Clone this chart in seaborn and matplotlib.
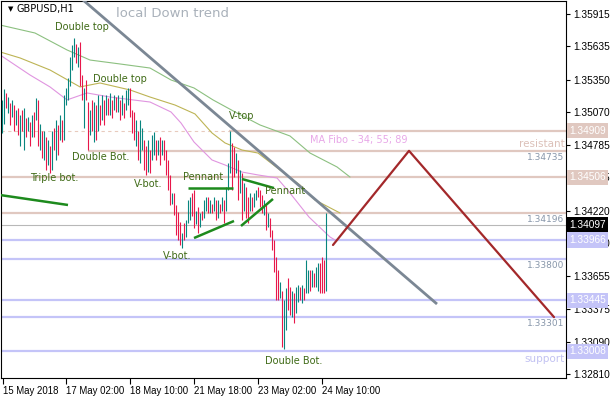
import numpy as np
import pandas as pd
import matplotlib
matplotlib.use("Agg")
import matplotlib.pyplot as plt
import seaborn as sns

# GBPUSD H1 bars (high / low, u = up bar, d = down bar)
highs = [
    1.3517, 1.3527, 1.3523, 1.3520, 1.3515, 1.3517, 1.3513, 1.3509, 1.3510, 1.3504,
    1.3509, 1.3510, 1.3502, 1.3503, 1.3498, 1.3504, 1.3507, 1.3519, 1.3517, 1.3497,
    1.3491, 1.3491, 1.3485, 1.3483, 1.3478, 1.3491, 1.3493, 1.3500, 1.3496, 1.3504,
    1.3500, 1.3522, 1.3528, 1.3536, 1.3554, 1.3565, 1.3571, 1.3566, 1.3563, 1.3567,
    1.3539, 1.3528, 1.3535, 1.3516, 1.3509, 1.3517, 1.3516, 1.3513, 1.3522, 1.3513,
    1.3522, 1.3517, 1.3522, 1.3519, 1.3523, 1.3517, 1.3522, 1.3520, 1.3522, 1.3517,
    1.3522, 1.3515, 1.3526, 1.3528, 1.3528, 1.3509, 1.3507, 1.3500, 1.3491, 1.3500,
    1.3493, 1.3483, 1.3478, 1.3483, 1.3474, 1.3487, 1.3490, 1.3483, 1.3483, 1.3485,
    1.3483, 1.3483, 1.3474, 1.3466, 1.3453, 1.3437, 1.3437, 1.3427, 1.3421, 1.3412,
    1.3403, 1.3411, 1.3414, 1.3431, 1.3434, 1.3437, 1.3440, 1.3422, 1.3425, 1.3420,
    1.3422, 1.3431, 1.3434, 1.3434, 1.3431, 1.3428, 1.3434, 1.3431, 1.3431, 1.3428,
    1.3434, 1.3431, 1.3442, 1.3463, 1.3491, 1.3480, 1.3477, 1.3472, 1.3466, 1.3457,
    1.3454, 1.3446, 1.3442, 1.3434, 1.3437, 1.3434, 1.3437, 1.3440, 1.3442, 1.3440,
    1.3435, 1.3431, 1.3427, 1.3420, 1.3416, 1.3405, 1.3397, 1.3382, 1.3371, 1.3360,
    1.3353, 1.3345, 1.3355, 1.3364, 1.3356, 1.3353, 1.3351, 1.3356, 1.3358, 1.3356,
    1.3358, 1.3355, 1.3379, 1.3371, 1.3371, 1.3371, 1.3368, 1.3373, 1.3377, 1.3377,
    1.3382, 1.3379, 1.3420,
]
lows = [
    1.3489, 1.3497, 1.3510, 1.3506, 1.3496, 1.3503, 1.3491, 1.3496, 1.3487, 1.3478,
    1.3491, 1.3474, 1.3485, 1.3491, 1.3478, 1.3485, 1.3485, 1.3500, 1.3478, 1.3474,
    1.3467, 1.3466, 1.3457, 1.3461, 1.3454, 1.3457, 1.3474, 1.3466, 1.3470, 1.3483,
    1.3481, 1.3483, 1.3513, 1.3517, 1.3529, 1.3543, 1.3554, 1.3549, 1.3546, 1.3529,
    1.3517, 1.3493, 1.3517, 1.3474, 1.3487, 1.3491, 1.3481, 1.3483, 1.3491, 1.3496,
    1.3500, 1.3496, 1.3504, 1.3504, 1.3504, 1.3502, 1.3509, 1.3507, 1.3507, 1.3500,
    1.3504, 1.3502, 1.3509, 1.3513, 1.3503, 1.3489, 1.3483, 1.3478, 1.3466, 1.3463,
    1.3474, 1.3457, 1.3453, 1.3455, 1.3454, 1.3466, 1.3470, 1.3466, 1.3470, 1.3461,
    1.3470, 1.3466, 1.3453, 1.3440, 1.3427, 1.3428, 1.3418, 1.3401, 1.3397, 1.3392,
    1.3390, 1.3397, 1.3399, 1.3411, 1.3414, 1.3417, 1.3407, 1.3410, 1.3403, 1.3408,
    1.3414, 1.3416, 1.3422, 1.3420, 1.3420, 1.3420, 1.3422, 1.3414, 1.3416, 1.3420,
    1.3422, 1.3411, 1.3422, 1.3440, 1.3454, 1.3440, 1.3451, 1.3454, 1.3431, 1.3437,
    1.3414, 1.3422, 1.3416, 1.3411, 1.3422, 1.3422, 1.3425, 1.3431, 1.3434, 1.3425,
    1.3420, 1.3418, 1.3405, 1.3408, 1.3399, 1.3388, 1.3369, 1.3345, 1.3345, 1.3347,
    1.3304, 1.3303, 1.3319, 1.3336, 1.3332, 1.3330, 1.3325, 1.3334, 1.3343, 1.3345,
    1.3342, 1.3345, 1.3351, 1.3351, 1.3353, 1.3356, 1.3356, 1.3356, 1.3353, 1.3351,
    1.3351, 1.3351, 1.3353,
]
dirs = ("uududududu" "dududududu" "dududududu" "duuuuuudud" "duddududud"
        "ududududud" "uduudddudu" "udduduudud" "uddddudddd" "uduuuddudu"
        "duudududud" "uduuuddudu" "dudduduudd" "dudu" "ddddd" "u" "duudduduud"
        "uduududuud" "ddu")

# moving averages 34 / 55 / 89 (bar index, price)
ma34_bar = [-1, 14, 24, 32.5, 42.5, 54, 65.5, 74, 84.5, 89.5, 96, 105, 111.5, 120, 128, 137.5, 144, 153.5, 164, 166.5]
ma34 = [1.35562, 1.35389, 1.35286, 1.35174, 1.35234, 1.35199, 1.35174, 1.35156, 1.35070, 1.34975,
        1.34811, 1.34656, 1.34613, 1.34552, 1.34527, 1.34501, 1.34371, 1.34164, 1.33992, 1.33966]
ma55_bar = [-1, 9, 24, 39, 49, 64, 74, 86.5, 96.5, 105, 111.5, 120, 128, 139, 149, 156.5, 169]
ma55 = [1.35588, 1.35536, 1.35432, 1.35286, 1.35320, 1.35260, 1.35199, 1.35130, 1.35053, 1.34889,
        1.34803, 1.34742, 1.34716, 1.34570, 1.34440, 1.34311, 1.34199]
ma89_bar = [-1, 16.5, 32.5, 44, 59, 74, 84.5, 96, 105.5, 117.5, 129, 144, 154, 167.5, 174]
ma89 = [1.35820, 1.35751, 1.35605, 1.35518, 1.35484, 1.35449, 1.35346, 1.35277, 1.35174, 1.35061,
        1.34958, 1.34863, 1.34716, 1.34596, 1.34509]

# horizontal levels
res_levels = [1.34909, 1.34735, 1.34506, 1.34196]
res_start = [113.5, 43, -0.5, -0.5]
sup_levels = [1.33966, 1.33800, 1.33445, 1.33301, 1.33008]
bid = 1.34097
boxed_levels = [1.34909, 1.34506, 1.33966, 1.33445, 1.33008]
plain_levels = [1.34735, 1.34196, 1.33800, 1.33301]

# drawings
trend_bar = [40.5, 217.5]
trend_px = [1.36036, 1.33414]
zigzag_bar = [165.5, 203.5, 276]
zigzag_px = [1.33923, 1.34735, 1.33301]
green_lines = [
    ([-1, 33], [1.34354, 1.34268]),
    ([93, 115.5], [1.34414, 1.34414]),
    ([96, 116], [1.33983, 1.34130]),
    ([120, 136], [1.34492, 1.34414]),
    ([119.5, 135.5], [1.34087, 1.34320]),
]
patterns = [
    ("Double top", 26.5, 1.35803), ("Double top", 45.5, 1.35355),
    ("Double Bot.", 35, 1.34682), ("Triple bot.", 14, 1.34501),
    ("V-bot.", 66, 1.34449), ("Pennant", 90.5, 1.34509),
    ("Pennant", 131.5, 1.34389), ("V-top", 113.5, 1.35036),
    ("V-bot.", 80.5, 1.33828), ("Double Bot.", 131.5, 1.32922),
]

yticks = [1.35915, 1.35635, 1.35350, 1.35070, 1.34785, 1.34505, 1.34220,
          1.33940, 1.33655, 1.33375, 1.33090, 1.32810]
xtick_bars = [0.5, 32, 64, 96, 128, 160]
xtick_labels = ["15 May 2018", "17 May 02:00", "18 May 10:00", "21 May 18:00",
                "23 May 02:00", "24 May 10:00"]

sns.set_style("white")
plt.rcParams["font.family"] = ["DejaVu Sans"]
AXFONT = "Liberation Sans"

RES = "#e0c8c0"
SUP = "#c4c4f8"
TXT = "#3f6a16"

fig = plt.figure(figsize=(6.1, 4.0), dpi=100)
ax = fig.add_axes([1 / 610, 22 / 400, 565 / 610, 377 / 400])
ax.set_xlim(-0.5, 282)
ax.set_ylim(1.32776, 1.36027)

# levels
ax.hlines(res_levels[0], -0.5, res_start[0], colors="#e8cabd", lw=0.8,
          linestyles=(0, (3, 3)), zorder=1)
for lv, st in zip(res_levels, res_start):
    ax.hlines(lv, st, 282, colors=RES, lw=1.6, zorder=1)
for lv in sup_levels:
    ax.hlines(lv, -0.5, 282, colors=SUP, lw=1.6, zorder=1)
ax.hlines(bid, -0.5, 282, colors="#b8b8b8", lw=0.8, zorder=1)

# moving averages
sns.lineplot(x=ma89_bar, y=ma89, ax=ax, color="#8cc080", lw=0.8, sort=False, estimator=None, zorder=2)
sns.lineplot(x=ma55_bar, y=ma55, ax=ax, color="#bdb455", lw=0.8, sort=False, estimator=None, zorder=2)
sns.lineplot(x=ma34_bar, y=ma34, ax=ax, color="#e095e0", lw=0.8, sort=False, estimator=None, zorder=2)

# bars
bars = pd.DataFrame({"bar": np.arange(len(highs)), "high": highs, "low": lows, "dir": list(dirs)})
cols = np.where(bars["dir"] == "u", "#08857f", "#e8174a")
ax.vlines(bars["bar"], bars["low"], bars["high"], colors=cols, lw=0.8, zorder=3)

# drawings
ax.plot(trend_bar, trend_px, color="#7b8794", lw=2.0, zorder=4, solid_capstyle="butt")
ax.plot(zigzag_bar, zigzag_px, color="#a3282a", lw=1.6, zorder=4)
for bx, py in green_lines:
    ax.plot(bx, py, color="#1d8a1d", lw=1.8, zorder=4, solid_capstyle="butt")

for txt, bx, py in patterns:
    ax.text(bx, py, txt, fontsize=7, color=TXT, ha="left", va="center", zorder=5)
ax.text(57, 1.35915, "local Down trend", fontsize=9.5, color="#a9b1ba", ha="left", va="center")
ax.text(154, 1.34828, "MA Fibo - 34; 55; 89", fontsize=7, color="#e8a8e8", ha="left", va="center")
ax.text(0.012, 0.978, "\u25bc", transform=ax.transAxes, fontsize=5, color="black", ha="left", va="center")
ax.text(0.028, 0.978, "GBPUSD,H1", transform=ax.transAxes, fontsize=7, color="black", ha="left", va="center")

yx = ax.get_yaxis_transform()
ax.annotate("resistant", xy=(1, res_levels[1]), xycoords=yx, xytext=(-1, 1.5), textcoords="offset points",
            ha="right", va="bottom", fontsize=7.5, color="#dcc0b8")
ax.annotate("support", xy=(1, sup_levels[-1]), xycoords=yx, xytext=(-1, -2), textcoords="offset points",
            ha="right", va="top", fontsize=7.5, color="#c2c2f2")
for lv in plain_levels:
    ax.annotate(f"{lv:.5f}", xy=(1, lv), xycoords=yx, xytext=(-1, -1.5), textcoords="offset points",
                ha="right", va="top", fontsize=6.5, color="#8796aa")

# axes
ax.yaxis.tick_right()
ax.set_yticks(yticks)
ax.set_yticklabels([f"{v:.5f}" for v in yticks], fontfamily=AXFONT)
ax.set_xticks(xtick_bars)
ax.set_xticklabels(xtick_labels, fontfamily=AXFONT)
for lab in ax.get_xticklabels():
    lab.set_horizontalalignment("left")
ax.tick_params(axis="y", labelsize=7.3, length=3, width=0.8, pad=2, colors="black", direction="out", right=True)
ax.tick_params(axis="x", labelsize=6.9, length=4, width=0.8, pad=2, colors="black", direction="out", bottom=True)
for sp in ax.spines.values():
    sp.set_color("black")
    sp.set_linewidth(0.8)

for lv in boxed_levels:
    fc = RES if lv > 1.343 else SUP
    ax.annotate(f"{lv:.5f}", xy=(1, lv), xycoords=yx, xytext=(2.2, 0), textcoords="offset points",
                ha="left", va="center", fontsize=7.3, fontfamily=AXFONT, color="white",
                annotation_clip=False, zorder=10,
                bbox=dict(boxstyle="square,pad=0.25", fc=fc, ec="none"))
ax.annotate(f"{bid:.5f}", xy=(1, bid), xycoords=yx, xytext=(2.2, 0), textcoords="offset points",
            ha="left", va="center", fontsize=7.3, fontfamily=AXFONT, color="white",
            annotation_clip=False, zorder=10,
            bbox=dict(boxstyle="square,pad=0.25", fc="black", ec="none"))

fig.savefig("out.png", dpi=100)
